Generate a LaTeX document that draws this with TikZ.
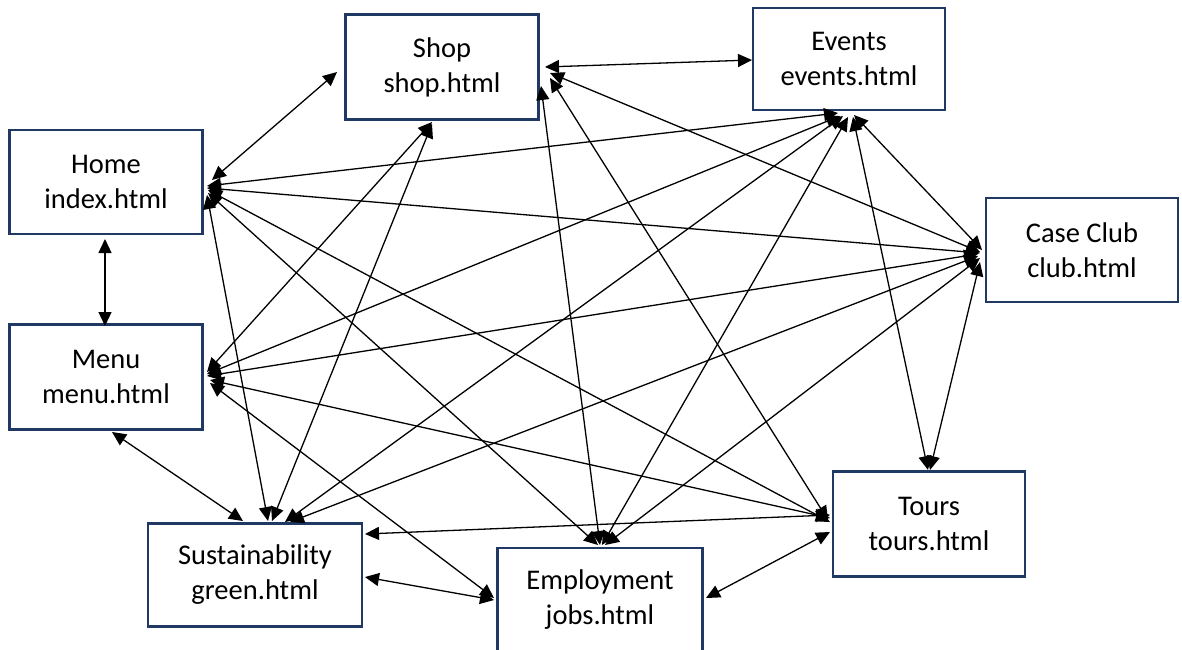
\documentclass[tikz,border=0pt]{standalone}
\usepackage{fontspec}
\setmainfont{Carlito}
\usetikzlibrary{arrows.meta}
\definecolor{boxblue}{RGB}{32,56,100}
\begin{document}
\begin{tikzpicture}[x=1pt,y=-1pt,
  pagebox/.style={draw=boxblue, line width=2.6pt, fill=white, inner sep=0pt, align=center,
    font=\fontsize{28.5}{35}\selectfont},
  link/.style={line width=1.3pt, {Triangle[length=14pt,width=13pt]}-{Triangle[length=14pt,width=13pt]}}]
\useasboundingbox (0,0) rectangle (1182,649);
\clip (0,0) rectangle (1182,649);
\fill[white] (0,0) rectangle (1182,649);
\node[pagebox, minimum width=193pt, minimum height=105pt] (shop) at (442,67) {Shop\\shop.html};
\node[pagebox, minimum width=192pt, minimum height=102pt] (events) at (849,59) {Events\\events.html};
\node[pagebox, minimum width=193pt, minimum height=104pt] (home) at (106,182) {Home\\index.html};
\node[pagebox, minimum width=192pt, minimum height=104pt] (case) at (1082,250) {Case Club\\club.html};
\node[pagebox, minimum width=193pt, minimum height=105pt] (menu) at (106,377) {Menu\\menu.html};
\node[pagebox, minimum width=192pt, minimum height=105pt] (tours) at (929,524) {Tours\\tours.html};
\node[pagebox, minimum width=214pt, minimum height=103pt] (sust) at (255,575) {Sustainability\\green.html};
\node[pagebox, minimum width=205pt, minimum height=104pt] (empl) at (600,600) {Employment\\jobs.html};
% Home
\draw[link] ([shift={(106,-2)}]home.center) -- ([shift={(-105,5)}]shop.center);
\draw[link] ([shift={(-1,57)}]home.center) -- ([shift={(-1,-51)}]menu.center);
\draw[link] ([shift={(101,4)}]home.center) -- ([shift={(-11,54)}]events.center);
\draw[link] ([shift={(101,6)}]home.center) -- ([shift={(-102,3)}]case.center);
\draw[link] ([shift={(102,8)}]home.center) -- ([shift={(-99,-2)}]tours.center);
\draw[link] ([shift={(102,11)}]home.center) -- ([shift={(-2,-55)}]empl.center);
\draw[link] ([shift={(101,13)}]home.center) -- ([shift={(13,-54)}]sust.center);
% Shop
\draw[link] ([shift={(103,0)}]shop.center) -- ([shift={(-97,1)}]events.center);
\draw[link] ([shift={(108,6)}]shop.center) -- ([shift={(-102,2)}]case.center);
\draw[link] ([shift={(108,11)}]shop.center) -- ([shift={(-101,-4)}]tours.center);
\draw[link] ([shift={(99,19)}]shop.center) -- ([shift={(0,-55)}]empl.center);
\draw[link] ([shift={(-10,55)}]shop.center) -- ([shift={(101,-5)}]menu.center);
\draw[link] ([shift={(-10,57)}]shop.center) -- ([shift={(17,-54)}]sust.center);
% Events
\draw[link] ([shift={(5,56)}]events.center) -- ([shift={(-100,0)}]case.center);
\draw[link] ([shift={(4,58)}]events.center) -- ([shift={(-1,-54)}]tours.center);
\draw[link] ([shift={(-9,57)}]events.center) -- ([shift={(101,-3)}]menu.center);
\draw[link] ([shift={(-6,57)}]events.center) -- ([shift={(30,-53)}]sust.center);
\draw[link] ([shift={(-1,58)}]events.center) -- ([shift={(2,-55)}]empl.center);
% Case Club
\draw[link] ([shift={(-102,12)}]case.center) -- ([shift={(1,-54)}]tours.center);
\draw[link] ([shift={(-104,4)}]case.center) -- ([shift={(101,-1)}]menu.center);
\draw[link] ([shift={(-104,6)}]case.center) -- ([shift={(35,-53)}]sust.center);
\draw[link] ([shift={(-102,8)}]case.center) -- ([shift={(5,-55)}]empl.center);
% Menu
\draw[link] ([shift={(6,55)}]menu.center) -- ([shift={(-12,-54)}]sust.center);
\draw[link] ([shift={(104,3)}]menu.center) -- ([shift={(-99,-6)}]tours.center);
\draw[link] ([shift={(104,6)}]menu.center) -- ([shift={(-106,-2)}]empl.center);
% Sustainability
\draw[link] ([shift={(110,2)}]sust.center) -- ([shift={(-106,0)}]empl.center);
\draw[link] ([shift={(110,-41)}]sust.center) -- ([shift={(-99,-9)}]tours.center);
% Employment
\draw[link] ([shift={(106,-2)}]empl.center) -- ([shift={(-99,8)}]tours.center);
\end{tikzpicture}
\end{document}
